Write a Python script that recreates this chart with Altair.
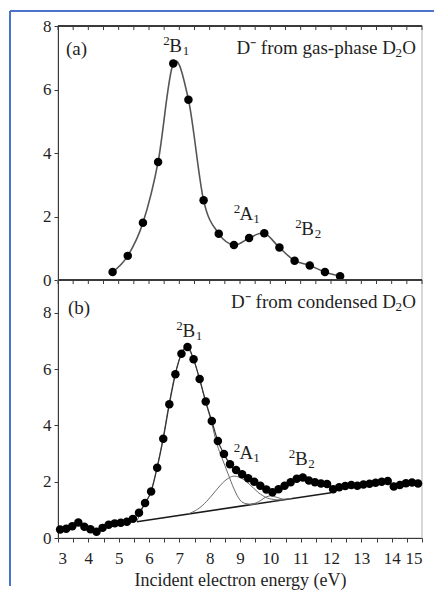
import altair as alt
import pandas as pd

# ---------------- data ----------------
# panel (a): D- from gas-phase D2O
energy_a = [4.8, 5.3, 5.8, 6.3, 6.8, 7.3, 7.8, 8.3, 8.8, 9.3, 9.8, 10.3, 10.8, 11.3, 11.8, 12.3]
yield_a = [0.25, 0.76, 1.80, 3.72, 6.82, 5.68, 2.51, 1.46, 1.10, 1.32, 1.47, 1.02, 0.61, 0.46, 0.25, 0.12]

# panel (b): D- from condensed D2O
energy_b = [3.07, 3.27, 3.47, 3.67, 3.87, 4.07, 4.27, 4.47, 4.67, 4.87,
            5.07, 5.27, 5.47, 5.67, 5.87, 6.07, 6.27, 6.47, 6.67, 6.87,
            7.07, 7.27, 7.47, 7.67, 7.87, 8.07, 8.27, 8.47, 8.67, 8.87,
            9.07, 9.27, 9.47, 9.67, 9.87, 10.07, 10.27, 10.47, 10.67, 10.87,
            11.07, 11.27, 11.47, 11.67, 11.87, 12.07, 12.27, 12.47, 12.67, 12.87,
            13.07, 13.27, 13.47, 13.67, 13.87, 14.07, 14.27, 14.47, 14.67, 14.87]
yield_b = [0.30, 0.33, 0.42, 0.55, 0.40, 0.31, 0.22, 0.36, 0.47, 0.52,
           0.54, 0.58, 0.68, 0.90, 1.24, 1.65, 2.50, 3.53, 4.75, 5.82,
           6.55, 6.79, 6.35, 5.65, 4.85, 4.16, 3.45, 2.99, 2.62, 2.42,
           2.27, 2.12, 2.00, 1.86, 1.72, 1.63, 1.73, 1.86, 1.98, 2.11,
           2.15, 2.04, 1.98, 1.94, 1.92, 1.73, 1.80, 1.85, 1.88, 1.86,
           1.90, 1.93, 1.96, 2.00, 2.03, 1.83, 1.88, 1.95, 1.97, 1.94]

# fitted components
base_e = [5.6, 12.0]
base_v = [0.58, 1.61]
b1_e = [5.6, 5.85, 6.05, 6.25, 6.45, 6.65, 6.85, 7.05, 7.25, 7.45, 7.65, 7.85, 8.05, 8.25, 8.4, 8.6, 8.8, 9.0, 9.2, 9.4, 9.6]
b1_v = [0.60, 1.20, 1.62, 2.45, 3.48, 4.70, 5.78, 6.50, 6.76, 6.40, 5.70, 4.90, 4.15, 3.30, 2.86, 2.30, 1.75, 1.35, 1.22, 1.20, 1.23]
a1_e = [7.3, 7.6, 7.9, 8.2, 8.5, 8.8, 9.0, 9.3, 9.6, 9.9, 10.2, 10.4]
a1_v = [0.86, 1.02, 1.30, 1.68, 2.03, 2.20, 2.15, 1.92, 1.62, 1.42, 1.36, 1.35]
b2_e = [9.3, 9.6, 9.85, 10.0, 10.2, 10.45, 10.7]
b2_v = [1.18, 1.28, 1.45, 1.50, 1.45, 1.38, 1.40]

tick_vals = [3, 3.5, 4, 4.5, 5, 5.5, 6, 6.5, 7, 7.5, 8, 8.5, 9, 9.5, 10, 10.5,
             11, 11.5, 12, 12.5, 13, 13.5, 14, 14.5, 15]
y_ticks = [0, 2, 4, 6, 8]

# annotations: panel letters
tag_a = ["(a)"]; tag_a_x = [3.26]; tag_a_y = [7.27]
tag_b = ["(b)"]; tag_b_x = [3.33]; tag_b_y = [8.18]

# state labels: superscript, letter, subscript
st_sup = ["2", "2", "2"]
st_main = ["B", "A", "B"]
st_sub = ["1", "1", "2"]
st_a_x = [6.88, 9.21, 11.23]
st_a_y = [7.37, 2.08, 1.61]
st_b_x = [7.31, 9.21, 11.02]
st_b_y = [7.36, 3.03, 2.81]

# headline: right-aligned, made of main + subscript + final letter
head_a = ["D⁻ from gas-phase D", "2", "O"]
head_b = ["D⁻ from condensed D", "2", "O"]
head_x = 14.80
head_a_y = 7.30
head_b_y = 8.39

# ---------------- chart ----------------
W = 364
HA = 254
HB = 258
FONT = "Liberation Serif"
TXT = "#1f1f1f"
AX = "#3a3a3a"
FS = 19
FS_SMALL = 13

xs_a = alt.Scale(domain=[3, 15], nice=False, zero=False)
xs_b = alt.Scale(domain=[3, 15], nice=False, zero=False)
ys_a = alt.Scale(domain=[0, 8], nice=False, zero=False)
ys_b = alt.Scale(domain=[0, 9.17], nice=False, zero=False)

x_axis_a = None
x_axis_b = alt.Axis(values=tick_vals, title="Incident electron energy (eV)",
                    labelExpr="datum.value % 1 === 0 ? format(datum.value, 'd') : ''",
                    labelOverlap=False, tickSize=4, labelPadding=8, titlePadding=5,
                    tickColor=AX, domainColor=AX, grid=False)
y_axis = alt.Axis(values=y_ticks, title=None, tickSize=4, labelPadding=3,
                  tickColor=AX, domainColor=AX, grid=False)

df_a = pd.DataFrame({"e": energy_a, "v": yield_a})
df_b = pd.DataFrame({"e": energy_b, "v": yield_b})
df_ticks = pd.DataFrame({"t": tick_vals})


def enc(xscale, yscale, xaxis, xf="e", yf="v"):
    return dict(x=alt.X(f"{xf}:Q", scale=xscale, axis=xaxis),
                y=alt.Y(f"{yf}:Q", scale=yscale, axis=y_axis))


def labels(xscale, yscale, xaxis, tag, tag_x, tag_y, st_x, st_y, head, head_y):
    layers = []
    layers.append(alt.Chart(pd.DataFrame({"t": tag, "x": tag_x, "y": tag_y}))
                  .mark_text(align="left", baseline="middle", font=FONT, fontSize=FS, color=TXT)
                  .encode(text="t:N", **enc(xscale, yscale, xaxis, "x", "y")))
    df_st = pd.DataFrame({"sup": st_sup, "main": st_main, "sub": st_sub, "x": st_x, "y": st_y})
    layers.append(alt.Chart(df_st)
                  .mark_text(align="center", baseline="middle", font=FONT, fontSize=FS, color=TXT)
                  .encode(text="main:N", **enc(xscale, yscale, xaxis, "x", "y")))
    layers.append(alt.Chart(df_st)
                  .mark_text(align="right", baseline="middle", font=FONT, fontSize=FS_SMALL,
                             color=TXT, dx=-6, dy=-5)
                  .encode(text="sup:N", **enc(xscale, yscale, xaxis, "x", "y")))
    layers.append(alt.Chart(df_st)
                  .mark_text(align="left", baseline="middle", font=FONT, fontSize=FS_SMALL,
                             color=TXT, dx=7, dy=5)
                  .encode(text="sub:N", **enc(xscale, yscale, xaxis, "x", "y")))
    df_h = pd.DataFrame({"t": [head[0]], "s": [head[1]], "o": [head[2]], "x": [head_x], "y": [head_y]})
    layers.append(alt.Chart(df_h)
                  .mark_text(align="right", baseline="middle", font=FONT, fontSize=FS, color=TXT, dx=-20)
                  .encode(text="t:N", **enc(xscale, yscale, xaxis, "x", "y")))
    layers.append(alt.Chart(df_h)
                  .mark_text(align="right", baseline="middle", font=FONT, fontSize=FS_SMALL, color=TXT,
                             dx=-14, dy=5)
                  .encode(text="s:N", **enc(xscale, yscale, xaxis, "x", "y")))
    layers.append(alt.Chart(df_h)
                  .mark_text(align="right", baseline="middle", font=FONT, fontSize=FS, color=TXT)
                  .encode(text="o:N", **enc(xscale, yscale, xaxis, "x", "y")))
    return layers


BLUE = "#4a74cc"


def frame_rules(xscale, xaxis, blue_top, blue_bottom, with_blue_h):
    """top edge line with inward ticks, and the blue page frame"""
    out = [
        alt.Chart(df_ticks).mark_rule(color=AX, strokeWidth=1).encode(
            x=alt.X("t:Q", scale=xscale, axis=xaxis), y=alt.value(0), y2=alt.value(4)),
        alt.Chart(df_ticks).mark_rule(color=AX, strokeWidth=1).encode(
            x=alt.value(0), x2=alt.value(W), y=alt.value(0)),
        alt.Chart(df_ticks).mark_rule(color=BLUE, strokeWidth=2).encode(
            x=alt.value(-48), y=alt.value(blue_top), y2=alt.value(blue_bottom)),
    ]
    if with_blue_h:
        out.append(alt.Chart(df_ticks).mark_rule(color=BLUE, strokeWidth=2).encode(
            x=alt.value(-48), x2=alt.value(376), y=alt.value(-15)))
    return out


# panel a
line_a = alt.Chart(df_a).mark_line(interpolate="cardinal", color="#555555", strokeWidth=1.6).encode(
    **enc(xs_a, ys_a, x_axis_a))
pts_a = alt.Chart(df_a).mark_circle(size=72, color="#000000", opacity=1).encode(
    **enc(xs_a, ys_a, x_axis_a))

panel_a = alt.layer(
    line_a, pts_a,
    *frame_rules(xs_a, x_axis_a, -15, HA, True),
    *labels(xs_a, ys_a, x_axis_a, tag_a, tag_a_x, tag_a_y, st_a_x, st_a_y, head_a, head_a_y)
).properties(width=W, height=HA)


# panel b
def comp(es, vs, color, width):
    return alt.Chart(pd.DataFrame({"e": es, "v": vs})).mark_line(
        interpolate="monotone", color=color, strokeWidth=width).encode(**enc(xs_b, ys_b, x_axis_b))


base_l = comp(base_e, base_v, "#1a1a1a", 1.6)
b1_l = comp(b1_e, b1_v, "#6a6a6a", 1.0)
a1_l = comp(a1_e, a1_v, "#6a6a6a", 1.0)
b2_l = comp(b2_e, b2_v, "#6a6a6a", 1.0)
line_b = alt.Chart(df_b).mark_line(interpolate="monotone", color="#333333", strokeWidth=1.2).encode(
    **enc(xs_b, ys_b, x_axis_b))
pts_b = alt.Chart(df_b).mark_circle(size=72, color="#000000", opacity=1).encode(
    **enc(xs_b, ys_b, x_axis_b))

panel_b = alt.layer(
    base_l, b1_l, a1_l, b2_l, line_b, pts_b,
    *frame_rules(xs_b, x_axis_b, 0, 306, False),
    *labels(xs_b, ys_b, x_axis_b, tag_b, tag_b_x, tag_b_y, st_b_x, st_b_y, head_b, head_b_y)
).properties(width=W, height=HB)

chart = alt.vconcat(panel_a, panel_b, spacing=0, bounds="flush").properties(
    padding={"left": 0, "top": 1, "right": 0, "bottom": 0}
).configure_axis(
    labelFont=FONT, labelFontSize=17, labelColor=TXT,
    titleFont=FONT, titleFontSize=18, titleFontWeight="normal", titleColor=TXT,
).configure_view(stroke="#cccccc", strokeWidth=1.5)

chart.save("out.html", embed_options={"renderer": "svg", "actions": False})
